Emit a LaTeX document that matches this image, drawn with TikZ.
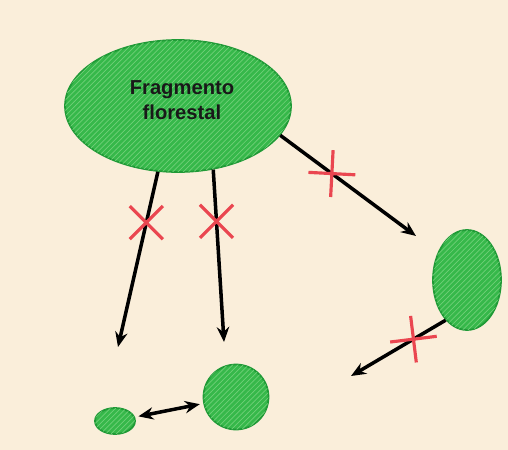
\documentclass[tikz,border=0pt]{standalone}
\usepackage{fontspec}
\newfontfamily\labelfont{Liberation Sans}
\usepackage{tikz}
\usetikzlibrary{positioning, shapes.geometric, shapes.misc, arrows.meta, patterns}

\definecolor{cream}{HTML}{FAEEDA}
\definecolor{patchgreen}{HTML}{36B84A}
\definecolor{patchedge}{HTML}{1F9A36}
\definecolor{hatchgreen}{HTML}{6FD078}
\definecolor{cutred}{HTML}{EA4650}

\tikzset{
    patch/.style={ellipse, draw=patchedge, line width=1pt, fill=patchgreen,
        postaction={pattern=north east lines, pattern color=hatchgreen}, inner sep=0pt},
    link/.style={line width=2pt, -{Stealth[length=8.5pt, width=7pt]}},
    cut/.style={cross out, draw=cutred, line width=1.8pt, minimum size=0.6cm, inner sep=0pt}
}

\begin{document}
\begin{tikzpicture}[x=0.02cm, y=-0.02cm]
            \fill [cream] (0, 0) rectangle (508, 450);
            \useasboundingbox (0, 0) rectangle (508, 450);

            \node [patch, minimum width=4.52cm, minimum height=2.64cm] (fragment) at (178, 106) {};
            \node [font=\labelfont\bfseries\fontsize{11.5}{14}\selectfont, text=black!90, align=center] (name) at (182, 100) {Fragmento\\florestal};
            \node [patch, minimum width=1.36cm, minimum height=2cm] (patchR) at (467, 280) {};
            \node [patch, minimum width=0.8cm, minimum height=0.52cm] (patchS) at (115, 421) {};
            \node [patch, circle, minimum size=1.3cm] (patchC) at (236, 397) {};

            \coordinate (end1) at (118, 347);
            \coordinate (end2) at (224, 342);
            \coordinate (end3) at (416, 236);
            \coordinate (end4) at (351, 376);

            \draw [link] (fragment.-107.6) -- node [cut, pos=0.29] (cut1) {} (end1);
            \draw [link] (fragment.-61.4) -- node [cut, pos=0.3] (cut2) {} (end2);
            \draw [link] (fragment.-16.6) -- node [cut, pos=0.38, rotate=42] (cut3) {} (end3);
            \draw [link] (patchR.-118.8) -- node [cut, pos=0.34, rotate=52] (cut4) {} (end4);
            \draw [link, {Stealth[length=8.5pt, width=7pt]}-{Stealth[length=8.5pt, width=7pt]}, shorten <=2pt, shorten >=2pt] (patchS) -- (patchC);
        \end{tikzpicture}
\end{document}
